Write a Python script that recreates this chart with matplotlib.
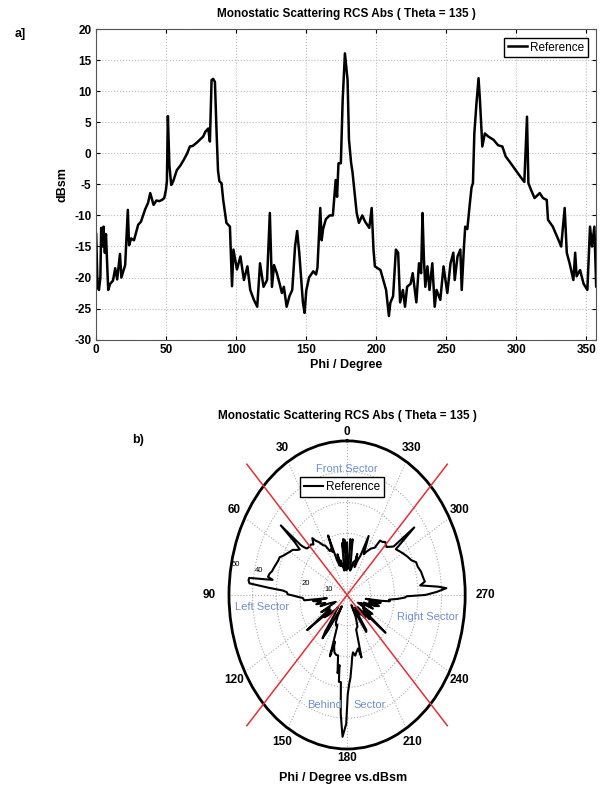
import numpy as np
import matplotlib
matplotlib.use("Agg")
import matplotlib.pyplot as plt

# Fonte parecida com a do MATLAB (Arial Narrow)
plt.rcParams['font.family'] = ['Liberation Sans Narrow', 'Liberation Sans', 'DejaVu Sans']
plt.rcParams['axes.unicode_minus'] = False

# Dados: angulo phi (graus) e RCS (dBsm)
phi = [0, 1, 2, 3, 3.6, 4.5, 5.3, 6.2, 7, 8.6, 10, 12, 13.6, 15, 17, 18, 20.7, 22.6, 23.5, 25,
       27, 30, 32, 35, 37, 38.6, 41, 43, 45, 47, 48.6, 49.8, 50.5, 51.2, 52.3, 53.6, 55, 57.6, 60, 62.4,
       65, 66.9, 69, 71.7, 74, 76.4, 78, 80, 81.2, 82.4, 83.5, 84.8, 86, 87, 88, 89.5, 90.7, 92, 93, 95.5,
       97, 98, 100.5, 103, 105.5, 108, 110, 112.6, 115, 117, 119.5, 122, 124, 125.5, 127, 129, 131, 132.6, 134, 136,
       138, 140, 142, 143.5, 145, 147.6, 148.8, 150, 152, 155, 157, 158, 160, 161, 162, 164, 166.7, 169, 171, 172,
       173, 174.7, 176, 177.6, 178.5, 179.5, 180.5, 182, 183, 185, 186, 187.6, 190, 192, 195, 196.7, 198, 199, 201, 203,
       205, 207, 209, 210, 212, 214, 215.6, 217, 219, 220.5, 222, 224.5, 226, 228.6, 230.5, 232, 233, 234, 235, 236.5,
       238, 240, 241.7, 243, 245.7, 248, 250.7, 253, 255, 256, 258, 260, 261, 262.6, 263.5, 265, 266.6, 268, 269, 270,
       271.5, 273, 274, 275.7, 277.5, 280, 283.6, 287, 290, 292.4, 296, 299.5, 303, 305.7, 307.6, 308.6, 310.5, 313, 316.7, 319,
       321.7, 322.6, 326, 330, 332, 334.5, 336, 338, 340.7, 342, 343, 345.5, 348, 350.7, 352.6, 354, 355.7, 357, 360]
rcs = [-13, -21.5, -22, -20, -12, -15, -11.8, -16, -13, -22, -21, -20.5, -18.5, -20.3, -16.2, -20, -18, -9.1, -14.8, -13.7,
       -14, -11.5, -11, -9, -8, -6.4, -8.3, -7.6, -7.7, -7.5, -7.2, -5.9, -4.5, 6, -2, -5.1, -4.5, -2.7, -2, -1.1,
       0, 1.1, 1.2, 1.7, 2.2, 2.7, 3.5, 4.0, 1.9, 11.8, 12, 11.5, 3.2, -2.8, -4.5, -4.8, -7.5, -9.6, -11.2, -11.8,
       -21.4, -15.5, -18.7, -16.6, -20.4, -18.2, -22, -23.6, -24.7, -17.7, -21.5, -20.4, -9.6, -21.5, -18, -19.3, -21, -22.5, -21.5, -24.7,
       -23, -22, -15, -12.5, -16, -24, -25.7, -22.1, -20, -19, -19.5, -18.4, -8.8, -14, -12.2, -10.6, -10, -10, -4.3, -7,
       -1.6, -1.6, 8.6, 16.1, 14, 11.8, 2.2, -1.5, -3, -7.5, -9.6, -11.2, -10, -11, -12, -8.8, -15.5, -18.2, -18.5, -18.8,
       -20.4, -22, -26.2, -24.1, -23, -15.5, -16, -24, -22, -24.7, -21.5, -21, -19.3, -24, -17.7, -19.3, -9.6, -17, -21.5, -18.2,
       -22, -17.7, -24.7, -22, -23.6, -18.2, -22.5, -17.7, -16, -20.4, -16.6, -15.5, -22, -15, -11.8, -12.2, -8.5, -5.5, -4.8, 3.2,
       8, 12.1, 8.6, 1.1, 3.2, 2.7, 2.2, 1.3, 1.1, -0.5, -1.6, -2.7, -3.8, -4.6, 5.9, -4.8, -5.9, -7.2, -6.4, -7.2,
       -7.5, -10.7, -11.8, -13.9, -15, -8.8, -16, -17.7, -20.4, -16, -19.8, -18.8, -21, -22, -11.8, -15, -11.8, -21.5, -21]

# Deslocamento usado no grafico polar (raio = dBsm + deslocamento)
deslocamento = 30

# Rotulos dos eixos
yticks_a = [-30, -25, -20, -15, -10, -5, 0, 5, 10, 15, 20]
xticks_a = [0, 50, 100, 150, 200, 250, 300, 350]
aneis = [10, 20, 30, 40]
rotulos_aneis = [10, 20, 40, 50]
angulos = list(range(0, 360, 30))

titulo = "Monostatic Scattering RCS Abs ( Theta = 135 )"
cor_setor = "#6f8fc4"

fig = plt.figure(figsize=(6.01, 7.88), dpi=100)

# ---------- grafico a) cartesiano ----------
ax1 = fig.add_axes([0.16, 0.569, 0.832, 0.394])
ax1.plot(phi, rcs, color="black", linewidth=1.8, label="Reference")
ax1.set_xlim(0, 357)
ax1.set_ylim(-30, 20)
ax1.set_xticks(xticks_a)
ax1.set_yticks(yticks_a)
ax1.grid(True, linestyle=":", color="#bbbbbb", linewidth=0.8)
ax1.tick_params(direction="in", top=True, right=True, labelsize=8.5, length=3)
for lab in ax1.get_xticklabels() + ax1.get_yticklabels():
    lab.set_fontweight("bold")
for sp in ax1.spines.values():
    sp.set_color("#555555")
ax1.set_title(titulo, fontsize=8.5, fontweight="bold", pad=9)
ax1.set_xlabel("Phi / Degree", fontsize=9, fontweight="bold")
ax1.set_ylabel("dBsm", fontsize=9, fontweight="bold")
ax1.xaxis.set_label_coords(0.5, -0.062)
ax1.yaxis.set_label_coords(-0.056, 0.5)
ax1.legend(loc="upper right", bbox_to_anchor=(588 / 601, 1 - 38 / 788), bbox_transform=fig.transFigure,
           fancybox=False, edgecolor="black", framealpha=1, fontsize=8.5, handlelength=1.6,
           borderpad=0.3, handletextpad=0.3, borderaxespad=0)
fig.text(20 / 601, 1 - 34 / 788, "a]", fontsize=9, fontweight="bold", ha="center", va="center")

# ---------- grafico b) polar ----------
ax2 = fig.add_axes([0.381, 0.0495, 0.393, 0.391], projection="polar")
ax2.set_aspect("auto")
ax2.set_theta_zero_location("N")
ax2.set_theta_direction(1)

raio = [max(v + deslocamento, 0) for v in rcs]
ax2.plot(np.radians(phi), raio, color="black", linewidth=1.5, label="Reference", zorder=3)

# Linhas vermelhas que separam os setores
for ang in [45, 135]:
    ax2.plot(np.radians([ang, ang, ang + 180, ang + 180]), [60, 0, 0, 60], color="#e0303a",
             linewidth=1.1, clip_on=False, zorder=4)

ax2.set_ylim(0, 50)
ax2.set_rticks(aneis)
ax2.set_yticklabels([])
ax2.set_thetagrids(angulos, labels=[])
ax2.grid(True, linestyle=":", color="#aaaaaa", linewidth=0.8)
ax2.spines["polar"].set_linewidth(2)
ax2.spines["polar"].set_color("black")

# Rotulos dos angulos (como no MATLAB, fora do circulo)
for ang in angulos:
    r_lab = 55
    if ang in (0, 180):
        r_lab = 53
    if ang in (90, 270):
        r_lab = 58.5
    ax2.text(np.radians(ang), r_lab, str(ang), fontsize=8.5, fontweight="bold",
             ha="center", va="center", clip_on=False)

# Rotulos dos aneis
for v in rotulos_aneis:
    ax2.text(np.radians(78), v - 2, str(v), fontsize=5.5, ha="center", va="center")

# Nomes dos setores
ax2.text(np.radians(0), 41, "Front Sector", color=cor_setor, fontsize=8, ha="center", va="center")
ax2.text(np.radians(96), 36, "Left Sector", color=cor_setor, fontsize=8, ha="center", va="center")
ax2.text(np.radians(258), 35, "Right Sector", color=cor_setor, fontsize=8, ha="center", va="center")
ax2.text(np.radians(165.4), 37, "Behind", color=cor_setor, fontsize=8, ha="center", va="center")
ax2.text(np.radians(195.2), 37, "Sector", color=cor_setor, fontsize=8, ha="center", va="center")

ax2.set_title(titulo, fontsize=8.5, fontweight="bold", pad=16)
fig.text(343 / 601, 1 - 778 / 788, "Phi / Degree vs.dBsm", fontsize=9, fontweight="bold",
         ha="center", va="center")
ax2.legend(loc="center", bbox_to_anchor=(342 / 601, 1 - 487 / 788), bbox_transform=fig.transFigure,
           fancybox=False, edgecolor="black", framealpha=1, fontsize=8.5, handlelength=1.6,
           borderpad=0.3, handletextpad=0.3)
fig.text(138 / 601, 1 - 440 / 788, "b)", fontsize=9, fontweight="bold", ha="center", va="center")

fig.savefig("out.png", dpi=100)
